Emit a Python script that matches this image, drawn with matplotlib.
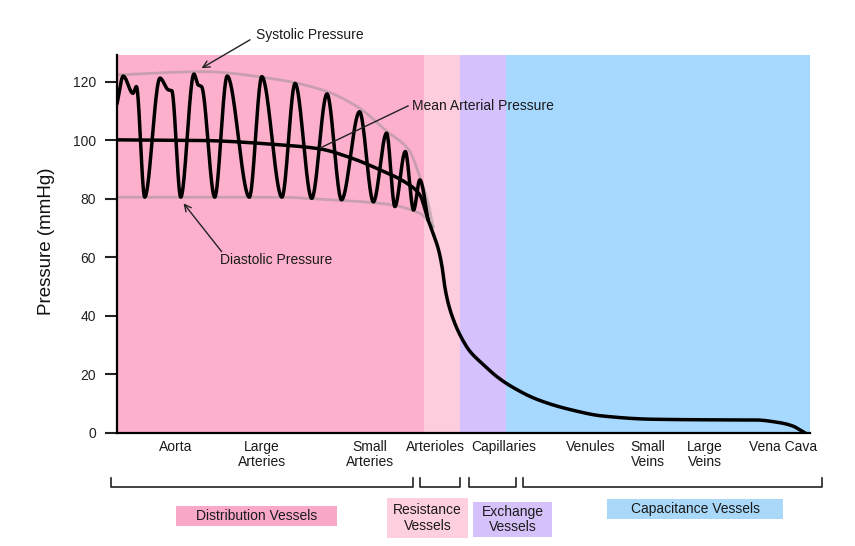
import numpy as np
import matplotlib
matplotlib.use("Agg")
import matplotlib.pyplot as plt
from matplotlib.patches import Rectangle
from matplotlib.transforms import blended_transform_factory

plt.rcParams['font.family'] = ['Liberation Sans', 'DejaVu Sans']

# position along the circulation runs 0..100 (left spine .. right end)
band_edges = [0, 44.3, 49.5, 56.1, 100]
band_colors = ['#fdb0cc', '#fdcdde', '#d5c1fc', '#a7d8fd']

# mean arterial pressure (mmHg)
mean_x = [0.0, 12.0, 23.5, 29.3, 33.2, 38.0, 41.8, 43.7, 44.9, 45.6, 46.4,
          46.9, 47.3, 47.8, 48.5, 49.5, 50.9, 52.9, 54.8, 56.7, 60.6, 65.4,
          70.1, 77.3, 87.0, 91.8, 95.7, 97.5, 98.8, 99.3]
mean_p = [100.2, 100.0, 98.5, 97.1, 94.5, 89.9, 85.4, 81.4, 72.8, 68.3, 62.6,
          56.9, 50.0, 44.3, 39.0, 33.5, 28.0, 23.3, 19.3, 16.2, 11.5, 8.0,
          5.8, 4.7, 4.5, 4.5, 3.5, 2.4, 0.7, 0.0]

# pulse wave turning points
pulse_x = [0.0, 0.9, 2.3, 2.8, 4.0, 6.2, 7.4, 7.9, 9.2, 11.1, 11.7, 12.2,
           14.1, 15.9, 19.1, 20.9, 23.8, 25.7, 28.1, 30.3, 32.4, 35.0, 37.0,
           38.9, 40.1, 41.6, 42.8, 43.7, 44.9]
pulse_p = [112.5, 122.0, 116.1, 118.4, 80.6, 121.3, 117.3, 117.0, 80.6, 122.7,
           119.0, 118.4, 80.6, 122.0, 80.6, 121.8, 80.6, 119.5, 80.2, 115.9,
           79.7, 109.8, 79.0, 102.5, 77.4, 96.2, 76.2, 86.5, 72.8]

# systolic / diastolic envelopes
sys_x = [0.0, 12.2, 23.5, 30.3, 35.0, 39.0, 42.1, 43.7, 44.9, 45.6]
sys_p = [122.4, 123.5, 120.7, 116.7, 111.0, 103.0, 96.8, 87.6, 78.5, 70.5]
dia_x = [0.0, 23.5, 30.0, 38.0, 43.7, 45.6]
dia_p = [80.6, 80.6, 79.8, 78.5, 75.1, 70.5]

vessels = ['Aorta', 'Large\nArteries', 'Small\nArteries', 'Arterioles',
           'Capillaries', 'Venules', 'Small\nVeins', 'Large\nVeins', 'Vena Cava']
vessel_x = [8.4, 20.9, 36.5, 45.9, 55.8, 68.3, 76.6, 84.8, 96.1]

groups = ['Distribution Vessels', 'Resistance\nVessels', 'Exchange\nVessels',
          'Capacitance Vessels']
group_span = [(-0.8, 42.7), (43.7, 49.5), (50.8, 57.6), (58.6, 101.8)]
group_colors = ['#f9a9c7', '#fdcfdf', '#d6c2fb', '#a9d8f9']
# label boxes in pixels: left, top, right, bottom
group_boxes = [(176, 506, 337, 526), (387, 498, 468, 538),
               (473, 502, 552, 537), (607, 499, 783, 519)]


def pchip(x, y, n=40):
    x = np.asarray(x, float)
    y = np.asarray(y, float)
    h = np.diff(x)
    d = np.diff(y) / h
    m = np.zeros_like(y)
    for k in range(1, len(x) - 1):
        if d[k - 1] * d[k] > 0:
            w1 = 2 * h[k] + h[k - 1]
            w2 = h[k] + 2 * h[k - 1]
            m[k] = (w1 + w2) / (w1 / d[k - 1] + w2 / d[k])
    m[0] = d[0]
    m[-1] = d[-1]
    xs, ys = [], []
    t = np.linspace(0, 1, n)
    for k in range(len(h)):
        h00 = 2 * t**3 - 3 * t**2 + 1
        h10 = t**3 - 2 * t**2 + t
        h01 = -2 * t**3 + 3 * t**2
        h11 = t**3 - t**2
        xs.append(x[k] + t * h[k])
        ys.append(h00 * y[k] + h10 * h[k] * m[k] + h01 * y[k + 1] + h11 * h[k] * m[k + 1])
    return np.concatenate(xs), np.concatenate(ys)


W, H = 855, 546
fig = plt.figure(figsize=(W / 100, H / 100), dpi=100)
ax = fig.add_axes([117 / W, (H - 433) / H, 693 / W, 378 / H])


def fy(py):
    return 1 - py / H


for i, c in enumerate(band_colors):
    ax.axvspan(band_edges[i], band_edges[i + 1], color=c, lw=0, zorder=0)

for xs, ps in [(sys_x, sys_p), (dia_x, dia_p)]:
    sx, sp = pchip(xs, ps)
    ax.plot(sx, sp, color='#8a8a8a', alpha=0.45, lw=2, zorder=2)

mx, mp = pchip(mean_x, mean_p)
ax.plot(mx, mp, color='black', lw=2.5, zorder=3, solid_capstyle='round')
px_, pp = pchip(pulse_x, pulse_p)
ax.plot(px_, pp, color='black', lw=2.5, zorder=3, solid_capstyle='round',
        solid_joinstyle='round')

ax.set_xlim(0, 100)
ax.set_ylim(0, 129.2)
ax.set_yticks([0, 20, 40, 60, 80, 100, 120])
ax.set_xticks([])
ax.tick_params(axis='y', length=9, width=1.5, labelsize=10, pad=6, colors='#222222')
for s in ['top', 'right']:
    ax.spines[s].set_visible(False)
for s in ['left', 'bottom']:
    ax.spines[s].set_linewidth(1.6)
    ax.spines[s].set_zorder(4)

fig.text(46.7 / W, fy(241), 'Pressure (mmHg)', rotation=90, ha='center',
         va='center', fontsize=13.5, color='#111111')

# annotations
arr = dict(arrowstyle='->', lw=1, color='#222222', shrinkA=0, shrinkB=0,
           mutation_scale=12)
ax.annotate('', xy=(12.2, 124.7), xytext=(19.2, 134.4), arrowprops=arr,
            annotation_clip=False)
ax.text(20.1, 136.1, 'Systolic Pressure', fontsize=10, ha='left', va='center',
        clip_on=False, color='#1a1a1a')
ax.annotate('', xy=(9.6, 78.5), xytext=(15.1, 62.0), arrowprops=arr)
ax.text(14.9, 59.1, 'Diastolic Pressure', fontsize=10, ha='left', va='center',
        color='#1a1a1a')
ax.plot([29.3, 42.0], [97.4, 111.8], color='#222222', lw=1, zorder=3.5)
ax.text(42.6, 111.8, 'Mean Arterial Pressure', fontsize=10, ha='left',
        va='center', color='#1a1a1a', zorder=5)

trans = blended_transform_factory(ax.transData, fig.transFigure)
for name, x in zip(vessels, vessel_x):
    ax.text(x, fy(440), name, transform=trans, ha='center', va='top',
            multialignment='center', fontsize=10, linespacing=1.1,
            color='#1a1a1a', clip_on=False)

for (a, b) in group_span:
    ax.plot([a, a, b, b], [fy(478), fy(487), fy(487), fy(478)], transform=trans,
            color='#222222', lw=1.2, clip_on=False)

for name, c, (l, t, r, b) in zip(groups, group_colors, group_boxes):
    fig.patches.append(Rectangle((l / W, fy(b)), (r - l) / W, (b - t) / H,
                                 transform=fig.transFigure, color=c, lw=0))
    fig.text((l + r) / 2 / W, fy((t + b) / 2), name, ha='center', va='center',
             multialignment='center', fontsize=10, linespacing=1.1,
             color='#1a1a1a')

fig.savefig('out.png', dpi=100)
